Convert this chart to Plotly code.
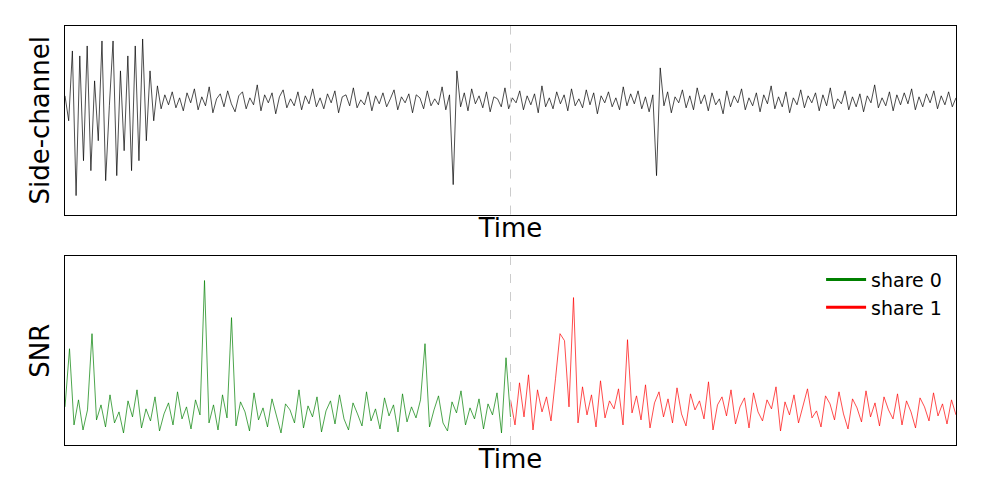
import plotly.graph_objects as go
from plotly.subplots import make_subplots

trace_top = [5,-20,50,-95,45,-60,55,-70,20,-40,60,-80,-5,60,-75,30,-50,45,-70,55,-60,62,-40,30,-20,15,-8,
 6,-4,9,-7,3,-10,8,-2,12,-9,4,-5,14,-12,2,7,-6,10,-3,-11,5,9,-8,3,-4,16,-10,6,-2,8,-13,4,11,-7,2,-5,9,-9,5,
 -3,12,-6,3,-8,7,-2,10,-12,4,6,-5,13,-7,1,-4,9,-10,5,-3,8,-6,2,11,-9,4,-2,7,-12,6,3,-8,10,-5,2,-4,14,-9,6,
 -84,30,-6,8,-10,12,-3,5,-7,9,-11,4,2,-6,13,-8,3,-2,10,-9,5,-4,7,-12,15,-6,3,-8,9,-3,6,-10,12,-5,2,-7,11,
 -4,8,-13,5,-2,9,-6,3,-9,14,-5,7,-3,10,-8,4,-11,6,-75,33,-5,9,-12,4,-2,11,-7,5,-9,13,-3,6,-10,8,-4,2,-13,
 10,-6,5,-2,12,-9,3,-5,8,-11,6,-3,15,-8,4,-6,9,-12,3,-4,11,-7,5,-2,8,-10,6,-5,13,-8,2,-3,10,-9,4,-6,7,-11,
 5,-2,16,-7,3,-5,9,-10,6,-4,8,-3,12,-9,4,-6,7,-2,10,-8,5,-4,9,-6,3]
snr_share0 = [38,96,20,45,15,35,111,25,40,18,50,22,33,12,44,28,55,17,36,24,48,14,31,42,20,53,26,38,16,45,
 30,164,22,40,15,50,27,127,19,43,33,14,52,25,37,18,46,29,12,41,35,22,55,17,39,28,48,13,34,44,21,50,26,15,
 42,31,19,53,24,36,16,47,29,40,13,51,23,38,27,45,101,18,35,49,22,14,43,32,54,20,37,26,46,16,41,30,52,12,87,28]
snr_share1 = [45,20,62,28,70,15,55,33,48,24,66,111,104,38,147,22,58,30,50,18,64,27,44,36,56,20,105,32,49,
 25,60,17,42,53,28,46,22,57,31,19,51,35,44,26,63,15,40,48,29,55,21,38,47,17,52,33,24,45,36,58,14,43,30,50,
 22,39,56,27,34,18,49,41,25,53,31,16,46,37,23,54,28,42,19,48,35,26,51,20,44,33,17,47,38,24,52,29,41,21,45,30]

n = len(trace_top)
xt = [i / (n - 1) for i in range(n)]
n0, n1 = len(snr_share0), len(snr_share1)
x0 = [0.5 * i / (n0 - 1) for i in range(n0)]
x1 = [0.5 + 0.5 * i / (n1 - 1) for i in range(n1)]

fig = make_subplots(rows=2, cols=1, vertical_spacing=0.1)
fig.add_trace(go.Scatter(x=xt, y=trace_top, mode="lines", line=dict(color="black", width=0.7), showlegend=False), 1, 1)
fig.add_trace(go.Scatter(x=x0, y=snr_share0, mode="lines", line=dict(color="green", width=0.7), showlegend=False), 2, 1)
fig.add_trace(go.Scatter(x=x1, y=snr_share1, mode="lines", line=dict(color="red", width=0.7), showlegend=False), 2, 1)
fig.add_trace(go.Scatter(x=[None], y=[None], mode="lines", line=dict(color="green", width=3), name="share 0"), 2, 1)
fig.add_trace(go.Scatter(x=[None], y=[None], mode="lines", line=dict(color="red", width=3), name="share 1"), 2, 1)

for r in (1, 2):
    fig.add_vline(x=0.5, line=dict(color="#cccccc", width=1, dash="dash"), row=r, col=1)
    fig.update_xaxes(range=[0, 1], showticklabels=False, showgrid=False, zeroline=False, mirror=True, automargin=False,
                     showline=True, linecolor="black", linewidth=1, title=dict(text="Time", standoff=4), row=r, col=1)
fig.update_yaxes(range=[-114, 75], row=1, col=1)
fig.update_yaxes(range=[0, 188], row=2, col=1)
fig.update_yaxes(showticklabels=False, showgrid=False, zeroline=False, mirror=True, showline=True, automargin=False,
                 linecolor="black", linewidth=1)
fig.update_yaxes(title=dict(text="Side-channel", standoff=6), row=1, col=1)
fig.update_yaxes(title=dict(text="SNR", standoff=6), row=2, col=1)

fig.update_layout(width=987, height=487, margin=dict(l=57, r=39, t=18, b=50),
                  plot_bgcolor="white", paper_bgcolor="white",
                  font=dict(family="DejaVu Sans", size=22, color="black"),
                  legend=dict(x=0.99, y=0.44, xanchor="right", yanchor="top", font=dict(size=19),
                              bgcolor="rgba(255,255,255,0.8)", itemwidth=40))
fig.write_html("out.html")
